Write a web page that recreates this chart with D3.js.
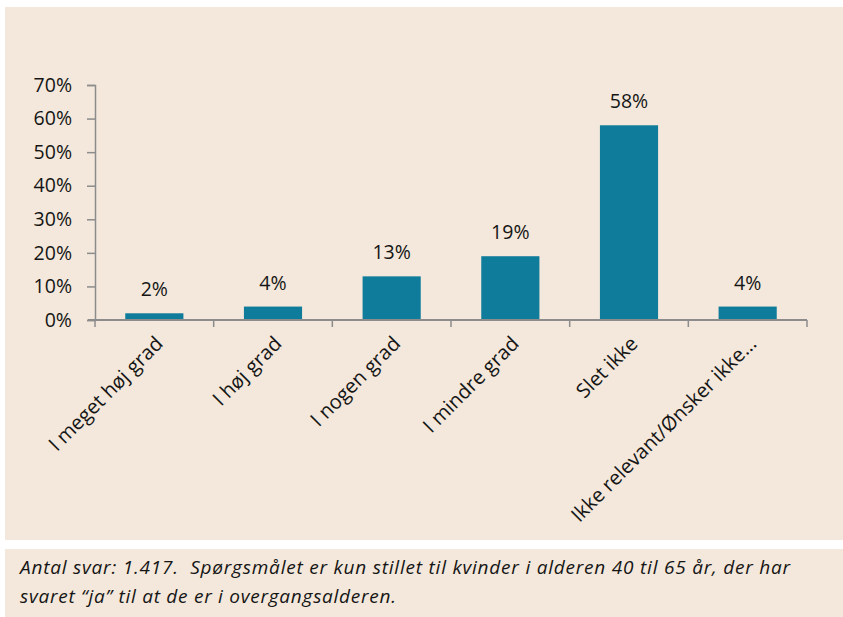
<!DOCTYPE html>
<html lang="da">
<head>
<meta charset="UTF-8">
<script src="https://cdnjs.cloudflare.com/ajax/libs/d3/7.8.5/d3.min.js"></script>
<style>
  html, body { margin: 0; padding: 0; background: #fff; }
  svg { display: block; }
</style>
</head>
<body>
<script>
// data
var categories = ['I meget høj grad', 'I høj grad', 'I nogen grad', 'I mindre grad', 'Slet ikke', 'Ikke relevant/Ønsker ikke...'];
var values = [2, 4, 13, 19, 58, 4];
var yTicks = [0, 10, 20, 30, 40, 50, 60, 70];
var noteLines = [
  'Antal svar: 1.417.  Spørgsmålet er kun stillet til kvinder i alderen 40 til 65 år, der har',
  'svaret “ja” til at de er i overgangsalderen.'
];
var noteWidths = [770, 376]; // measured line lengths in the reference

var W = 843, H = 617;
var bg = '#f3e8db', barColor = '#0e7c9a', axisColor = '#8c8c8c';
var font = '"Open Sans", "Noto Sans", sans-serif';

var svg = d3.select('body').append('svg')
  .attr('width', W)
  .attr('height', H);

// panels
svg.append('rect').attr('x', 5).attr('y', 7).attr('width', W - 5).attr('height', 533).attr('fill', bg);
svg.append('rect').attr('x', 5).attr('y', 549).attr('width', W - 5).attr('height', H - 549).attr('fill', bg);

var x = d3.scaleBand().domain(categories).range([95, 807]).paddingInner(0.51).paddingOuter(0.255);
var y = d3.scaleLinear().domain([0, 70]).range([320, 85]);

// y axis
var yAxis = svg.append('g')
  .attr('transform', 'translate(95,0)')
  .call(d3.axisLeft(y).tickValues(yTicks).tickSize(8).tickPadding(15).tickFormat(function (d) { return d + '%'; }));
yAxis.select('.domain').attr('stroke', axisColor).attr('stroke-width', 1.5);
yAxis.selectAll('.tick line').attr('stroke', axisColor).attr('stroke-width', 1.5);
yAxis.selectAll('.tick text').attr('font-family', font).attr('font-size', 19.5).attr('fill', '#151515');

// bars
svg.selectAll('.bar')
  .data(values)
  .enter().append('rect')
  .attr('class', 'bar')
  .attr('x', function (d, i) { return x(categories[i]); })
  .attr('y', function (d) { return y(d); })
  .attr('width', x.bandwidth())
  .attr('height', function (d) { return y(0) - y(d); })
  .attr('fill', barColor);

// x axis (drawn after bars so the line sits on top)
var bandStep = x.step();
var xAxis = svg.append('g').attr('transform', 'translate(0,320)');
xAxis.append('line')
  .attr('x1', 88).attr('x2', 807)
  .attr('stroke', axisColor).attr('stroke-width', 2);
var edges = d3.range(categories.length + 1).map(function (i) { return 95 + i * bandStep; });
xAxis.selectAll('.xt')
  .data(edges)
  .enter().append('line')
  .attr('class', 'xt')
  .attr('x1', function (d) { return d; })
  .attr('x2', function (d) { return d; })
  .attr('y1', 0).attr('y2', 7)
  .attr('stroke', axisColor).attr('stroke-width', 1.5);

// rotated category labels
svg.selectAll('.xlab')
  .data(categories)
  .enter().append('text')
  .attr('class', 'xlab')
  .attr('transform', function (d) {
    var cx = x(d) + x.bandwidth() / 2;
    return 'translate(' + (cx + 5) + ',340) rotate(-45)';
  })
  .attr('text-anchor', 'end')
  .attr('dy', '0.35em')
  .attr('font-family', font)
  .attr('font-size', 20)
  .attr('fill', '#151515')
  .text(function (d) { return d; });

// value labels
svg.selectAll('.vlab')
  .data(values)
  .enter().append('text')
  .attr('class', 'vlab')
  .attr('x', function (d, i) { return x(categories[i]) + x.bandwidth() / 2; })
  .attr('y', function (d) { return y(d) - 17; })
  .attr('text-anchor', 'middle')
  .attr('font-family', font)
  .attr('font-size', 19.5)
  .attr('fill', '#151515')
  .text(function (d) { return d + '%'; });

// note
svg.selectAll('.note')
  .data(noteLines)
  .enter().append('text')
  .attr('class', 'note')
  .attr('x', 20)
  .attr('y', function (d, i) { return 574 + i * 29; })
  .attr('font-family', font)
  .attr('font-style', 'italic')
  .attr('font-size', 19)
  .attr('fill', '#151515')
  .attr('textLength', function (d, i) { return noteWidths[i]; })
  .attr('lengthAdjust', 'spacing')
  .style('white-space', 'pre')
  .text(function (d) { return d; });
</script>
</body>
</html>
